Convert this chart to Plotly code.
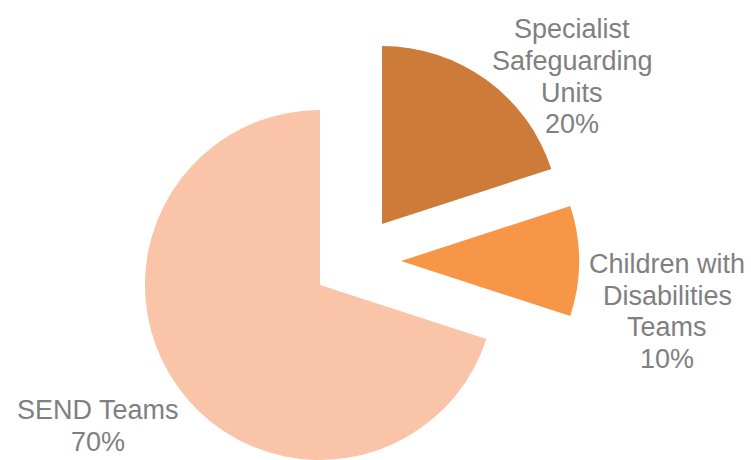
import plotly.graph_objects as go

# Share of referrals by team type
categories = ["Specialist Safeguarding Units", "Children with Disabilities Teams", "SEND Teams"]
label_lines = [["Specialist", "Safeguarding", "Units"],
               ["Children with", "Disabilities", "Teams"],
               ["SEND Teams"]]
values = [20, 10, 70]

colors = ["#CD7B38", "#F79646", "#F9C4A8"]
text_color = "#808080"
font_size = 27
line_gap = 31.7

W, H = 751, 460

# Exploded layout: each slice gets its own pie trace with its own centre (px) and radius
centres = [(382, 224), (401, 261), (320, 285)]
radii = [178, 178, 175]

# Label block: horizontal centre and first-line baseline (px)
label_pos = [(572, 36.7), (667, 271.5), (98, 418)]


def domain_for(cx, cy, r):
    return dict(x=[(cx - r) / W, (cx + r) / W],
                y=[max(0.0, 1 - (cy + r) / H), min(1.0, 1 - (cy - r) / H)])


fig = go.Figure()
for i, name in enumerate(categories):
    slice_colors = [colors[j] if j == i else "rgba(0,0,0,0)" for j in range(len(categories))]
    cx, cy = centres[i]
    fig.add_trace(go.Pie(
        labels=categories,
        values=values,
        sort=False,
        direction="clockwise",
        rotation=0,
        textinfo="none",
        hoverinfo="label+percent",
        marker=dict(colors=slice_colors, line=dict(width=0)),
        domain=domain_for(cx, cy, radii[i]),
        showlegend=False,
    ))

total = sum(values)
for i, name in enumerate(categories):
    pct = round(100 * values[i] / total)
    lines = label_lines[i] + [f"{pct}%"]
    lx, base = label_pos[i]
    for k, line in enumerate(lines):
        # centre of the text box sits a little above the baseline
        cy = base + k * line_gap - 0.28 * font_size
        fig.add_annotation(
            x=lx / W, y=1 - cy / H, xref="paper", yref="paper",
            text=line, showarrow=False, align="center",
            xanchor="center", yanchor="middle",
            font=dict(family="Liberation Sans, Arial, sans-serif",
                      size=font_size, color=text_color),
        )

fig.update_layout(
    width=W, height=H,
    margin=dict(l=0, r=0, t=0, b=0),
    paper_bgcolor="white",
    plot_bgcolor="white",
)

fig.write_html("out.html")
